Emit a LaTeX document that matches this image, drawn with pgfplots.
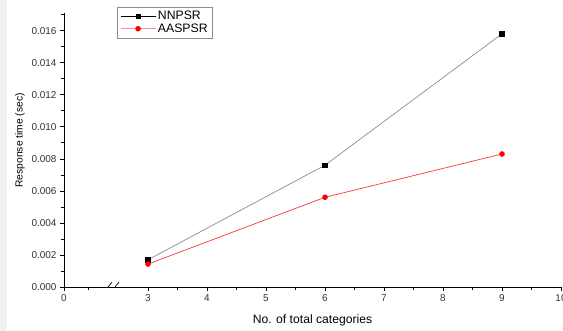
\documentclass[border=0pt]{standalone}
\usepackage{fontspec}
\setmainfont{Liberation Sans}
\usepackage{pgfplots}
\pgfplotsset{compat=1.18}
\begin{document}
\begin{tikzpicture}
\begin{axis}[
  scale only axis,
  width=497bp, height=274bp,
  xmin=1.576, xmax=10,
  ymin=0, ymax=0.0171,
  axis lines=left,
  axis line style={-, black, line width=0.6pt},
  tick align=outside,
  tick style={black, line width=0.6pt},
  major tick length=4bp,
  minor tick length=2.5bp,
  xtick={1.576,3,4,5,6,7,8,9,10},
  xticklabels={0,3,4,5,6,7,8,9,10},
  minor xtick={1.98,3.5,4.5,5.5,6.5,7.5,8.5,9.5},
  ytick={0,0.002,...,0.0161},
  minor ytick={0.001,0.003,...,0.0171},
  scaled y ticks=false,
  yticklabel style={/pgf/number format/.cd, fixed, fixed zerofill, precision=3, assume math mode=true},
  xticklabel style={/pgf/number format/assume math mode=true},
  ticklabel style={font=\fontsize{10}{12}\selectfont, text=black!80},
  xlabel={No. of total categories},
  ylabel={Response time (sec)},
  xlabel style={font=\fontsize{12.2}{14}\selectfont, yshift=-6bp},
  ylabel style={font=\fontsize{10.3}{13}\selectfont, at={(ticklabel cs:0.535)}},
  legend style={at={(0.1067,1.022)}, anchor=north west, draw=black!45, font=\fontsize{12.3}{14.5}\selectfont, inner xsep=3bp, inner ysep=2bp, row sep=-1.5pt, legend cell align=left},
  legend image code/.code={\draw[#1, mark repeat=2, mark phase=2] plot coordinates {(0bp,0bp) (17.5bp,0bp) (35bp,0bp)};},
]
\addplot[forget plot, color=black!45, line width=0.7pt, mark=square*, mark size=2.2pt, mark options={black, draw=black}] coordinates {(3,0.0017) (6,0.0076) (9,0.0158)};
\addplot[forget plot, color=red!80, line width=0.7pt, mark=*, mark size=2.4pt, mark options={red, draw=red}] coordinates {(3,0.00143) (6,0.0056) (9,0.0083)};
\addlegendimage{color=black, line width=0.7pt, mark=square*, mark size=2.2pt, mark options={black, draw=black}}
\addlegendentry{NNPSR}
\addlegendimage{color=red!45, line width=0.7pt, mark=*, mark size=2.4pt, mark options={red, draw=red}}
\addlegendentry{AASPSR}
\fill[white] (axis cs:2.32,-0.00015) rectangle (axis cs:2.44,0.00015);
\draw[line width=0.7pt] (axis cs:2.254,-0.0003) -- (axis cs:2.39,0.0003);
\draw[line width=0.7pt] (axis cs:2.373,-0.0003) -- (axis cs:2.508,0.0003);
\end{axis}
\pgfresetboundingbox
\useasboundingbox (-64bp,-44bp) rectangle (499bp,287bp);
\fill[black!6] (-64bp,-44bp) rectangle (-57bp,287bp);
\end{tikzpicture}
\end{document}
